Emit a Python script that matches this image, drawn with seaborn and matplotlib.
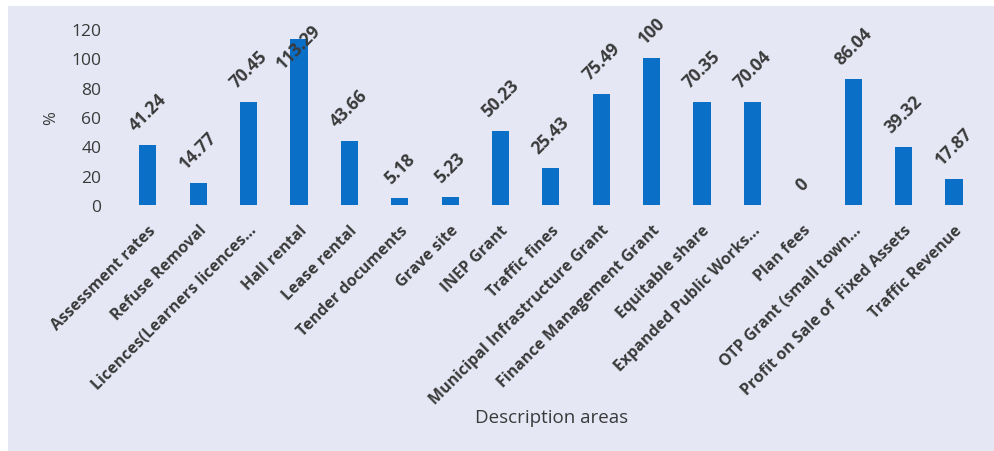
import matplotlib
matplotlib.use("Agg")
import matplotlib.pyplot as plt
import matplotlib.patches as mpatches
import seaborn as sns
import pandas as pd

categories = [
    "Assessment rates", "Refuse Removal", "Licences(Learners licences\u2026",
    "Hall rental", "Lease rental", "Tender documents", "Grave site",
    "INEP Grant", "Traffic fines", "Municipal Infrastructure Grant",
    "Finance Management Grant", "Equitable share", "Expanded Public Works\u2026",
    "Plan fees", "OTP Grant (small town\u2026", "Profit on Sale of  Fixed Assets",
    "Traffic Revenue",
]
values = [41.24, 14.77, 70.45, 113.29, 43.66, 5.18, 5.23, 50.23, 25.43,
          75.49, 100, 70.35, 70.04, 0, 86.04, 39.32, 17.87]
y_ticks = [0, 20, 40, 60, 80, 100, 120]
x_title = "Description areas"
y_title = "%"

sns.set_theme(style="white")
plt.rcParams["font.family"] = ["Open Sans", "DejaVu Sans"]

bg = "#E5E7F4"
bar_color = "#0A6FC7"
text_color = "#3A3A3A"

fig = plt.figure(figsize=(9.95, 4.52), dpi=100)
fig.patch.set_facecolor(bg)
# white strips at top and left (scan border)
fig.patches.append(mpatches.Rectangle((0, (452 - 7) / 452), 1, 7 / 452,
                                      transform=fig.transFigure,
                                      facecolor="white", edgecolor="none", zorder=-10))
fig.patches.append(mpatches.Rectangle((0, 0), 8 / 995, 1,
                                      transform=fig.transFigure,
                                      facecolor="white", edgecolor="none", zorder=-10))

ax = fig.add_axes([0.1116, 0.544, 0.876, 0.39])
ax.set_facecolor("none")

df = pd.DataFrame({"cat": categories, "val": values})
sns.barplot(data=df, x="cat", y="val", color=bar_color, saturation=1,
            width=0.34, ax=ax, order=categories, linewidth=0, edgecolor="none")

ax.set_ylim(0, 120)
ax.set_xlim(-0.73, 16.57)
ax.set_yticks(y_ticks)
ax.set_yticklabels([str(t) for t in y_ticks], fontsize=12.5, color=text_color)
ax.set_xticks(range(len(categories)))
ax.set_xticklabels(categories, rotation=45, ha="right", rotation_mode="anchor",
                   fontsize=11.5, fontweight="bold", color=text_color)
ax.tick_params(axis="x", length=0, pad=12)
ax.tick_params(axis="y", length=0, pad=7)
for s in ax.spines.values():
    s.set_visible(False)

ymax = ax.get_ylim()[1]
for i, v in enumerate(values):
    if v < 0.9 * ymax:
        ax.annotate(f"{v:g}", xy=(i, v), xytext=(0, 8), textcoords="offset points",
                    rotation=45, ha="center", va="bottom",
                    fontsize=12.5, fontweight="bold", color=text_color)
    else:
        # label that would leave the chart is kept inside, overlapping the bar
        ax.annotate(f"{v:g}", xy=(i, ymax), xytext=(0, 6), textcoords="offset points",
                    rotation=45, ha="center", va="top",
                    fontsize=12.5, fontweight="bold", color=text_color)

ax.set_xlabel("")
fig.text(552 / 995, 1 - 418 / 452, x_title, ha="center", va="center",
         fontsize=13.5, color=text_color)
ax.set_ylabel(y_title, fontsize=12, color=text_color, labelpad=9)

fig.savefig("out.png", dpi=100, facecolor=fig.get_facecolor())
